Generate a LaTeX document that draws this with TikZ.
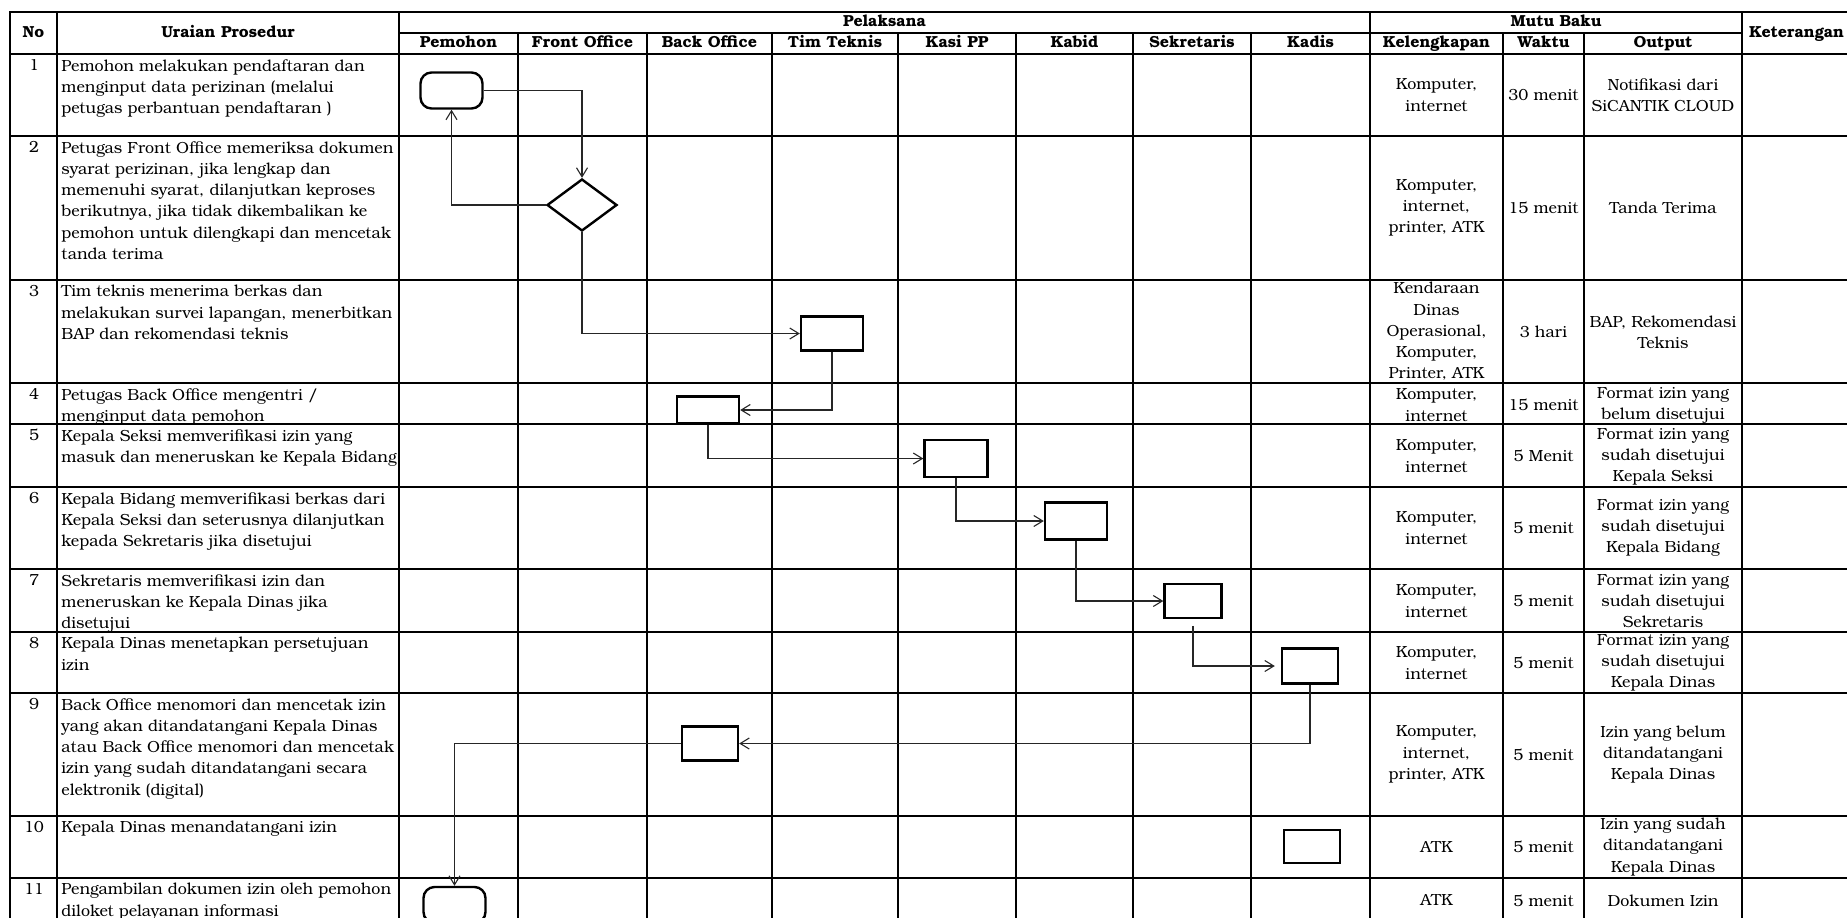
\documentclass[tikz,border=0pt]{standalone}
\usepackage{fontspec}
\setmainfont{TeX Gyre Bonum}
\usetikzlibrary{arrows.meta,shapes.geometric}
\newcommand\mybody{\fontsize{8.05pt}{10.6pt}\selectfont}
\newcommand\myhead{\fontsize{8.0pt}{10.6pt}\selectfont\bfseries}
\begin{document}
\begin{tikzpicture}[x=0.5pt,y=-0.5pt,
  mytline/.style={line width=1.45pt,line cap=rect},
  myuraian/.style={anchor=north west,align=left,inner sep=0pt,font=\mybody},
  mynum/.style={anchor=north,inner sep=0pt,font=\mybody},
  mycell/.style={align=center,inner sep=0pt,font=\mybody},
  myhd/.style={align=center,inner sep=0pt,font=\myhead,text height=6pt,text depth=1.6pt},
  myproc/.style={draw,line width=1.2pt,fill=white,inner sep=0pt},
  myterm/.style={myproc,rounded corners=5.5pt,minimum width=31pt,minimum height=18pt},
  mydecide/.style={draw,diamond,line width=1.2pt,fill=white,inner sep=0pt,minimum width=35pt,minimum height=26pt},
  myflow/.style={draw=black!85,line width=0.55pt,-{Straight Barb[length=4.5pt,width=5.5pt,line width=0.55pt]}},
]
\useasboundingbox (0,0) rectangle (1847,917);
\fill[white] (0,0) rectangle (1847,917);
\clip (0,0) rectangle (1847,917);

% ---------- header texts ----------
\node[myhd] (hno) at (33.5,33) {No};
\node[myhd] (hur) at (228,33) {Uraian Prosedur};
\node[myhd] (hpel) at (884.5,22.5) {Pelaksana};
\node[myhd] (hmutu) at (1556,22.5) {Mutu Baku};
\node[myhd] (hket) at (1796.5,33) {Keterangan};
\node[myhd] (hpem) at (458.5,43.5) {Pemohon};
\node[myhd] (hfo) at (582.5,43.5) {Front Office};
\node[myhd] (hbo) at (709.5,43.5) {Back Office};
\node[myhd] (htt) at (835,43.5) {Tim Teknis};
\node[myhd] (hkasi) at (957,43.5) {Kasi PP};
\node[myhd] (hkabid) at (1074.5,43.5) {Kabid};
\node[myhd] (hsekr) at (1192,43.5) {Sekretaris};
\node[myhd] (hkadis) at (1310.5,43.5) {Kadis};
\node[myhd] (hkel) at (1436.5,43.5) {Kelengkapan};
\node[myhd] (hwak) at (1543.5,43.5) {Waktu};
\node[myhd] (hout) at (1663,43.5) {Output};

% ---------- numbers ----------
\node[mynum] (n1) at (34,59) {1};
\node[mynum] (n2) at (34,141) {2};
\node[mynum] (n3) at (34,285) {3};
\node[mynum] (n4) at (34,388) {4};
\node[mynum] (n5) at (34,429) {5};
\node[mynum] (n6) at (34,492) {6};
\node[mynum] (n7) at (34,574) {7};
\node[mynum] (n8) at (34,637) {8};
\node[mynum] (n9) at (34,698) {9};
\node[mynum] (n10) at (34,821) {10};
\node[mynum] (n11) at (34,883) {11};

% ---------- uraian ----------
\node[myuraian] (u1) at (61,59) {Pemohon melakukan pendaftaran dan\\menginput data perizinan (melalui\\petugas perbantuan pendaftaran )};
\node[myuraian] (u2) at (61,141) {Petugas Front Office memeriksa dokumen\\syarat perizinan, jika lengkap dan\\memenuhi syarat, dilanjutkan keproses\\berikutnya, jika tidak dikembalikan ke\\pemohon untuk dilengkapi dan mencetak\\tanda terima};
\node[myuraian] (u3) at (61,285) {Tim teknis menerima berkas dan\\melakukan survei lapangan, menerbitkan\\BAP dan rekomendasi teknis};
\node[myuraian] (u4) at (61,388) {Petugas Back Office mengentri /\\menginput data pemohon};
\node[myuraian] (u5) at (61,429) {Kepala Seksi memverifikasi izin yang\\masuk dan meneruskan ke Kepala Bidang};
\node[myuraian] (u6) at (61,492) {Kepala Bidang memverifikasi berkas dari\\Kepala Seksi dan seterusnya dilanjutkan\\kepada Sekretaris jika disetujui};
\node[myuraian] (u7) at (61,574) {Sekretaris memverifikasi izin dan\\meneruskan ke Kepala Dinas jika\\disetujui};
\node[myuraian] (u8) at (61,637) {Kepala Dinas menetapkan persetujuan\\izin};
\node[myuraian] (u9) at (61,698) {Back Office menomori dan mencetak izin\\yang akan ditandatangani Kepala Dinas\\atau Back Office menomori dan mencetak\\izin yang sudah ditandatangani secara\\elektronik (digital)};
\node[myuraian] (u10) at (61,821) {Kepala Dinas menandatangani izin};
\node[myuraian] (u11) at (61,883) {Pengambilan dokumen izin oleh pemohon\\diloket pelayanan informasi};

% ---------- kelengkapan ----------
\node[mycell] (k1) at (1436.5,95) {Komputer,\\internet};
\node[mycell] (k2) at (1436.5,208) {Komputer,\\internet,\\printer, ATK};
\node[mycell] (k3) at (1436.5,331.5) {Kendaraan\\Dinas\\Operasional,\\Komputer,\\Printer, ATK};
\node[mycell] (k4) at (1436.5,405) {Komputer,\\internet};
\node[mycell] (k5) at (1436.5,456) {Komputer,\\internet};
\node[mycell] (k6) at (1436.5,528) {Komputer,\\internet};
\node[mycell] (k7) at (1436.5,601) {Komputer,\\internet};
\node[mycell] (k8) at (1436.5,663) {Komputer,\\internet};
\node[mycell] (k9) at (1436.5,754.5) {Komputer,\\internet,\\printer, ATK};
\node[mycell] (k10) at (1436.5,847) {ATK};
\node[mycell] (k11) at (1436.5,900.5) {ATK};

% ---------- waktu ----------
\node[mycell] (w1) at (1543.5,95) {30 menit};
\node[mycell] (w2) at (1543.5,208) {15 menit};
\node[mycell] (w3) at (1543.5,331.5) {3 hari};
\node[mycell] (w4) at (1543.5,405) {15 menit};
\node[mycell] (w5) at (1543.5,456) {5 Menit};
\node[mycell] (w6) at (1543.5,528) {5 menit};
\node[mycell] (w7) at (1543.5,601) {5 menit};
\node[mycell] (w8) at (1543.5,663) {5 menit};
\node[mycell] (w9) at (1543.5,754.5) {5 menit};
\node[mycell] (w10) at (1543.5,847) {5 menit};
\node[mycell] (w11) at (1543.5,900.5) {5 menit};

% ---------- output ----------
\node[mycell] (o1) at (1663,95) {Notifikasi dari\\SiCANTIK CLOUD};
\node[mycell] (o2) at (1663,208) {Tanda Terima};
\node[mycell] (o3) at (1663,332) {BAP, Rekomendasi\\Teknis};
\node[mycell] (o4) at (1663,405) {Format izin yang\\belum disetujui};
\node[mycell] (o5) at (1663,456.5) {Format izin yang\\sudah disetujui\\Kepala Seksi};
\node[mycell] (o6) at (1663,528) {Format izin yang\\sudah disetujui\\Kepala Bidang};
\node[mycell] (o7) at (1663,601) {Format izin yang\\sudah disetujui\\Sekretaris};
\node[mycell] (o8) at (1663,663) {Format izin yang\\sudah disetujui\\Kepala Dinas};
\node[mycell] (o9) at (1663,754.5) {Izin yang belum\\ditandatangani\\Kepala Dinas};
\node[mycell] (o10) at (1663,847) {Izin yang sudah\\ditandatangani\\Kepala Dinas};
\node[mycell] (o11) at (1663,900.5) {Dokumen Izin};

% ---------- table lines ----------
\foreach \yy in {12,54,136,280,383,424,487,569,632,693,816,878,923}
  \draw[mytline] (10,\yy) -- (1851,\yy);
\draw[mytline] (399,33) -- (1742,33);
\foreach \xx in {10,57,399,1370,1742,1851}
  \draw[mytline] (\xx,12) -- (\xx,923);
\foreach \xx in {518,647,772,898,1016,1133,1251,1503,1584}
  \draw[mytline] (\xx,33) -- (\xx,923);

% ---------- flow shapes ----------
\node[myterm] (t1) at (451.5,90.5) {};
\node[mydecide] (dec) at (582,205) {};
\node[myproc,minimum width=31pt,minimum height=17pt] (tt) at (832,333.5) {};
\node[myproc,minimum width=31pt,minimum height=13.5pt] (bo1) at (708,410) {};
\node[myproc,minimum width=31.5pt,minimum height=18.5pt] (kasi) at (956,458.5) {};
\node[myproc,minimum width=31pt,minimum height=18.5pt] (kabid) at (1076,521) {};
\node[myproc,minimum width=28.5pt,minimum height=17pt] (sekr) at (1193,601) {};
\node[myproc,minimum width=28pt,minimum height=17.5pt] (kadis1) at (1310,666) {};
\node[myproc,minimum width=28pt,minimum height=17pt] (bo2) at (710,743.5) {};
\node[myproc,minimum width=28pt,minimum height=16.5pt] (kadis2) at (1312,846.5) {};
\node[myterm] (t2) at (454.5,905) {};

% ---------- connectors ----------
\draw[myflow] (t1.east) -| (dec.north);
\draw[myflow] (dec.west) -| (t1.south);
\draw[myflow] (dec.south) |- (tt.west);
\draw[myflow] (tt.south) |- (bo1.east);
\draw[myflow] (bo1.south) |- (kasi.west);
\draw[myflow] (kasi.south) |- (kabid.west);
\draw[myflow] (kabid.south) |- (sekr.west);
\draw[myflow,shorten <=3.3pt,shorten >=3pt] (sekr.south) |- (kadis1.west);
\draw[myflow] (kadis1.south) |- (bo2.east);
\draw[myflow] (bo2.west) -| (t2.north);
\end{tikzpicture}
\end{document}
